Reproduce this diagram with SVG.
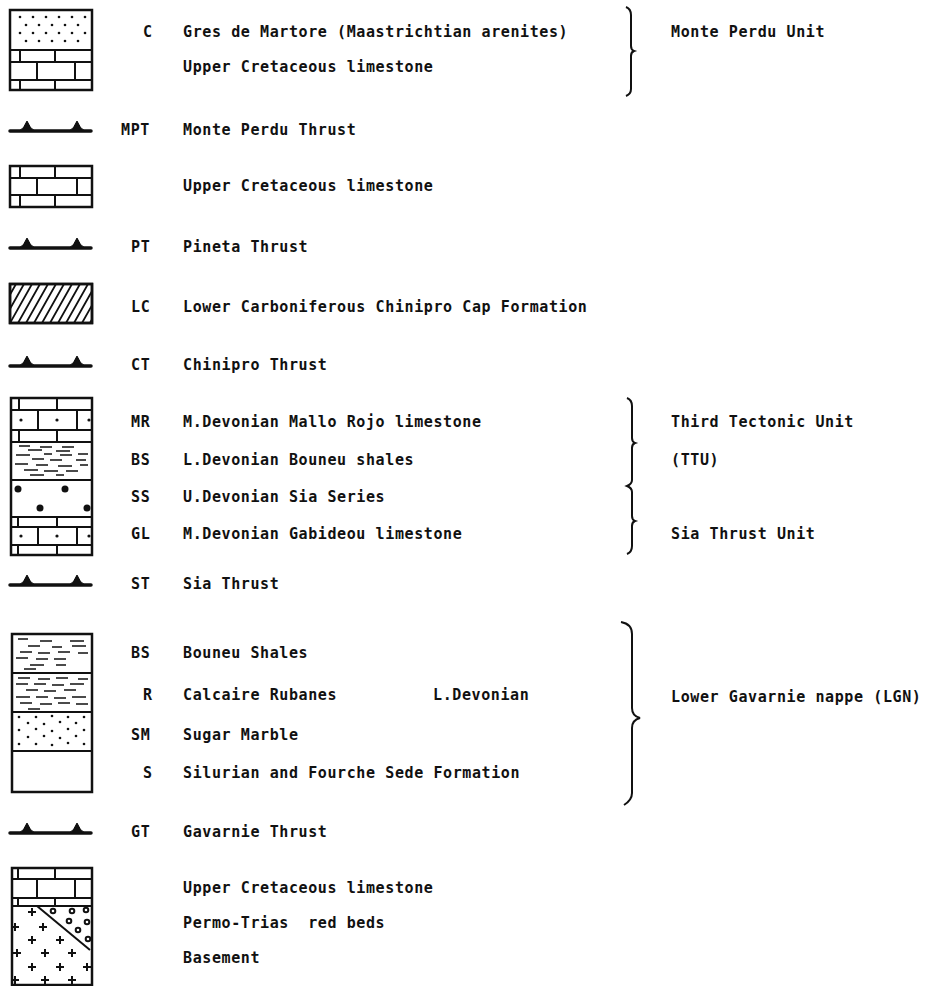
<svg xmlns="http://www.w3.org/2000/svg" width="927" height="986" viewBox="0 0 927 986">
<style>
  text { font-family: "DejaVu Sans Mono", "Liberation Mono", monospace; font-size: 15px; letter-spacing: 0.6px; font-weight: bold; fill: #111; white-space: pre; }
  .box { fill: #fff; stroke: #111; stroke-width: 2.5; }
  .frame { fill: none; stroke: #111; stroke-width: 2.5; }
  .ln { stroke: #111; stroke-width: 2; fill: none; }
  .thin { stroke: #111; stroke-width: 1.8; fill: none; }
  .dash { stroke: #111; stroke-width: 1.5; fill: none; }
  .dot { fill: #111; }
  .tri { fill: #111; stroke: #111; stroke-width: 1; stroke-linejoin: round; }
  .thr { stroke: #111; stroke-width: 3.5; stroke-linecap: round; fill: none; }
  .brace { stroke: #111; stroke-width: 2; fill: none; }
  .plus { stroke: #111; stroke-width: 2; }
  .circ { fill: none; stroke: #111; stroke-width: 2; }
</style>
<defs>
  <g id="thrust">
    <line class="thr" x1="10" y1="0" x2="91" y2="0"/>
    <path class="tri" d="M19 0Q24 -2 27 -10Q30 -2 35 0Z"/>
    <path class="tri" d="M69 0Q74 -2 77 -10Q80 -2 85 0Z"/>
    <polygon class="tri" points="22,0 27,-9 32,0"/>
    <polygon class="tri" points="72,0 77,-9 82,0"/>
  </g>
  <clipPath id="lcClip"><rect x="10" y="284" width="82" height="39"/></clipPath>
</defs>
<rect width="927" height="986" fill="#fff"/>

<g id="box-monte-perdu">
  <rect class="box" x="10" y="10" width="82" height="80"/>
  <g class="dot">
    <circle cx="20" cy="17" r="1.3"/><circle cx="33" cy="17" r="1.3"/><circle cx="46" cy="17" r="1.3"/><circle cx="59" cy="17" r="1.3"/><circle cx="72" cy="17" r="1.3"/><circle cx="85" cy="17" r="1.3"/>
    <circle cx="26" cy="25" r="1.3"/><circle cx="39" cy="25" r="1.3"/><circle cx="52" cy="25" r="1.3"/><circle cx="65" cy="25" r="1.3"/><circle cx="78" cy="25" r="1.3"/>
    <circle cx="20" cy="33" r="1.3"/><circle cx="33" cy="33" r="1.3"/><circle cx="46" cy="33" r="1.3"/><circle cx="59" cy="33" r="1.3"/><circle cx="72" cy="33" r="1.3"/><circle cx="85" cy="33" r="1.3"/>
    <circle cx="26" cy="41" r="1.3"/><circle cx="39" cy="41" r="1.3"/><circle cx="52" cy="41" r="1.3"/><circle cx="65" cy="41" r="1.3"/><circle cx="78" cy="41" r="1.3"/>
  </g>
  <path class="ln" d="M10 50H92M10 62H92M10 80H92M20 50V62M55 50V62M37 62V80M75 62V80M20 80V90M55 80V90"/>
  <text x="143" y="37">C</text>
  <text x="183" y="37">Gres de Martore (Maastrichtian arenites)</text>
  <text x="183" y="72">Upper Cretaceous limestone</text>
  <text x="671" y="37">Monte Perdu Unit</text>
</g>

<g id="row-mpt">
  <use href="#thrust" x="0" y="131"/>
  <text x="121" y="135">MPT</text>
  <text x="183" y="135">Monte Perdu Thrust</text>
</g>

<g id="box-upper-cretaceous-2">
  <rect class="box" x="10" y="166" width="82" height="41"/>
  <path class="ln" d="M10 178H92M10 195H92M20 166V178M55 166V178M37 178V195M77 178V195M20 195V207M55 195V207"/>
  <text x="183" y="191">Upper Cretaceous limestone</text>
</g>

<g id="row-pt">
  <use href="#thrust" x="0" y="248"/>
  <text x="131" y="252">PT</text>
  <text x="183" y="252">Pineta Thrust</text>
</g>

<g id="box-lc">
  <rect class="box" x="10" y="284" width="82" height="39"/>
  <g clip-path="url(#lcClip)" class="thin">
    <path d="M-14 323L8 284M-6 323L16 284M2 323L24 284M10 323L32 284M18 323L40 284M26 323L48 284M34 323L56 284M42 323L64 284M50 323L72 284M58 323L80 284M66 323L88 284M74 323L96 284M82 323L104 284M90 323L112 284"/>
  </g>
  <rect class="frame" x="10" y="284" width="82" height="39"/>
  <text x="131" y="312">LC</text>
  <text x="183" y="312">Lower Carboniferous Chinipro Cap Formation</text>
</g>

<g id="row-ct">
  <use href="#thrust" x="0" y="366"/>
  <text x="131" y="370">CT</text>
  <text x="183" y="370">Chinipro Thrust</text>
</g>

<g id="box-ttu">
  <rect class="box" x="11" y="398" width="81" height="157"/>
  <path class="ln" d="M11 410H92M11 430H92M19 398V410M57 398V410M38 410V430M77 410V430M19 430V442M57 430V442"/>
  <circle class="dot" cx="21" cy="420" r="1.6"/><circle class="dot" cx="57" cy="420" r="1.6"/><circle class="dot" cx="89" cy="420" r="1.6"/>
  <line class="ln" x1="11" y1="442" x2="92" y2="442" stroke-width="2.5"/>
  <path class="dash" d="M19 446H30M40 447H52M62 447H74M28 450H42M56 451H70M16 455H30M44 454H52M60 455H72M78 454H88M32 459H44M50 460H62M76 460H86M15 464H28M36 465H48M58 466H72M80 465H88M24 470H38M44 471H58M66 471H78M30 475H44M56 475H64"/>
  <line class="ln" x1="11" y1="480" x2="92" y2="480"/>
  <circle class="dot" cx="18" cy="489" r="3.5"/><circle class="dot" cx="65" cy="489" r="3.5"/>
  <circle class="dot" cx="40" cy="508" r="3.5"/><circle class="dot" cx="87" cy="508" r="3.5"/>
  <line class="ln" x1="11" y1="517" x2="92" y2="517"/>
  <path class="ln" d="M11 527H92M11 545H92M18 517V527M57 517V527M38 527V545M77 527V545M18 545V555M57 545V555"/>
  <circle class="dot" cx="21" cy="536" r="1.6"/><circle class="dot" cx="57" cy="536" r="1.6"/><circle class="dot" cx="89" cy="536" r="1.6"/>
  <text x="131" y="427">MR</text>
  <text x="183" y="427">M.Devonian Mallo Rojo limestone</text>
  <text x="131" y="465">BS</text>
  <text x="183" y="465">L.Devonian Bouneu shales</text>
  <text x="131" y="502">SS</text>
  <text x="183" y="502">U.Devonian Sia Series</text>
  <text x="131" y="539">GL</text>
  <text x="183" y="539">M.Devonian Gabideou limestone</text>
  <text x="671" y="427">Third Tectonic Unit</text>
  <text x="671" y="465">(TTU)</text>
  <text x="671" y="539">Sia Thrust Unit</text>
</g>

<g id="row-st">
  <use href="#thrust" x="0" y="585"/>
  <text x="131" y="589">ST</text>
  <text x="183" y="589">Sia Thrust</text>
</g>

<g id="box-lgn">
  <rect class="box" x="12" y="634" width="80" height="158"/>
  <path class="dash" d="M18 639H28M40 641H52M70 641H84M28 646H40M52 647H62M72 646H86M20 652H32M38 653H50M58 652H70M78 653H88M16 658H28M36 659H48M54 659H66M30 665H44M56 665H66M24 669H36"/>
  <line class="ln" x1="12" y1="673" x2="92" y2="673"/>
  <path class="dash" d="M18 678H30M38 679H50M56 678H68M78 679H88M16 684H28M34 684H46M52 685H64M70 684H84M26 690H38M44 691H56M64 690H76M16 697H30M36 697H48M54 698H66M72 697H86M20 703H32M40 704H52M58 703H70M76 704H88M28 709H40"/>
  <line class="ln" x1="12" y1="712" x2="92" y2="712" stroke-width="3"/>
  <g class="dot">
    <circle cx="19" cy="717" r="1.3"/><circle cx="36" cy="717" r="1.3"/><circle cx="52" cy="716" r="1.3"/><circle cx="68" cy="717" r="1.3"/><circle cx="84" cy="717" r="1.3"/>
    <circle cx="28" cy="723" r="1.3"/><circle cx="44" cy="724" r="1.3"/><circle cx="60" cy="722" r="1.3"/><circle cx="76" cy="723" r="1.3"/>
    <circle cx="19" cy="730" r="1.3"/><circle cx="36" cy="729" r="1.3"/><circle cx="52" cy="731" r="1.3"/><circle cx="68" cy="729" r="1.3"/><circle cx="84" cy="730" r="1.3"/>
    <circle cx="28" cy="737" r="1.3"/><circle cx="44" cy="736" r="1.3"/><circle cx="60" cy="738" r="1.3"/><circle cx="76" cy="736" r="1.3"/>
    <circle cx="19" cy="744" r="1.3"/><circle cx="36" cy="744" r="1.3"/><circle cx="52" cy="745" r="1.3"/><circle cx="68" cy="743" r="1.3"/><circle cx="84" cy="744" r="1.3"/>
  </g>
  <line class="ln" x1="12" y1="751" x2="92" y2="751" stroke-width="2.5"/>
  <text x="131" y="658">BS</text>
  <text x="183" y="658">Bouneu Shales</text>
  <text x="143" y="700">R</text>
  <text x="183" y="700">Calcaire Rubanes</text>
  <text x="433" y="700">L.Devonian</text>
  <text x="131" y="740">SM</text>
  <text x="183" y="740">Sugar Marble</text>
  <text x="143" y="778">S</text>
  <text x="183" y="778">Silurian and Fourche Sede Formation</text>
  <text x="671" y="702">Lower Gavarnie nappe (LGN)</text>
</g>

<g id="row-gt">
  <use href="#thrust" x="0" y="833"/>
  <text x="131" y="837">GT</text>
  <text x="183" y="837">Gavarnie Thrust</text>
</g>

<g id="box-autochthon">
  <rect class="box" x="12" y="868" width="80" height="117"/>
  <path class="ln" d="M12 879H92M12 898H92M12 906H92M18 868V879M55 868V879M37 879V898M75 879V898M18 898V906M55 898V906"/>
  <line class="ln" x1="37" y1="906" x2="90" y2="950" stroke-width="2.5"/>
  <g>
    <circle class="circ" cx="53" cy="911" r="2.3"/><circle class="circ" cx="72" cy="911" r="2.3"/><circle class="circ" cx="86" cy="910" r="2.3"/>
    <circle class="circ" cx="69" cy="921" r="2.3"/><circle class="circ" cx="87" cy="922" r="2.3"/>
    <circle class="circ" cx="78" cy="930" r="2.3"/><circle class="circ" cx="88" cy="939" r="2.3"/>
  </g>
  <path class="plus" d="M28 912h8M32 908v8M11 927h8M15 923v8M39 927h8M43 923v8M28 940h8M32 936v8M56 940h8M60 936v8M13 953h8M17 949v8M41 953h8M45 949v8M68 953h8M72 949v8M28 967h8M32 963v8M56 967h8M60 963v8M83 967h8M87 963v8M11 980h8M15 976v8M41 980h8M45 976v8M68 980h8M72 976v8"/>
  <text x="183" y="893">Upper Cretaceous limestone</text>
  <text x="183" y="928">Permo-Trias  red beds</text>
  <text x="183" y="963">Basement</text>
</g>

<g id="connectors">
  <path class="brace" d="M626 7Q631 9 631 15L631 46Q631 50 634 51Q631 52 631 56L631 89Q631 94 626 96"/>
  <path class="brace" d="M627 398Q632 400 632 406L632 438Q632 442 635 443Q632 444 632 448L632 480Q632 484 627 486Q632 488 632 492L632 516Q632 520 635 521Q632 522 632 526L632 546Q632 552 627 554"/>
  <path class="brace" stroke-width="3" d="M621 622Q632 624 632 634L632 708Q632 716 640 718Q632 720 632 728L632 793Q632 800 624 805"/>
</g>
</svg>
